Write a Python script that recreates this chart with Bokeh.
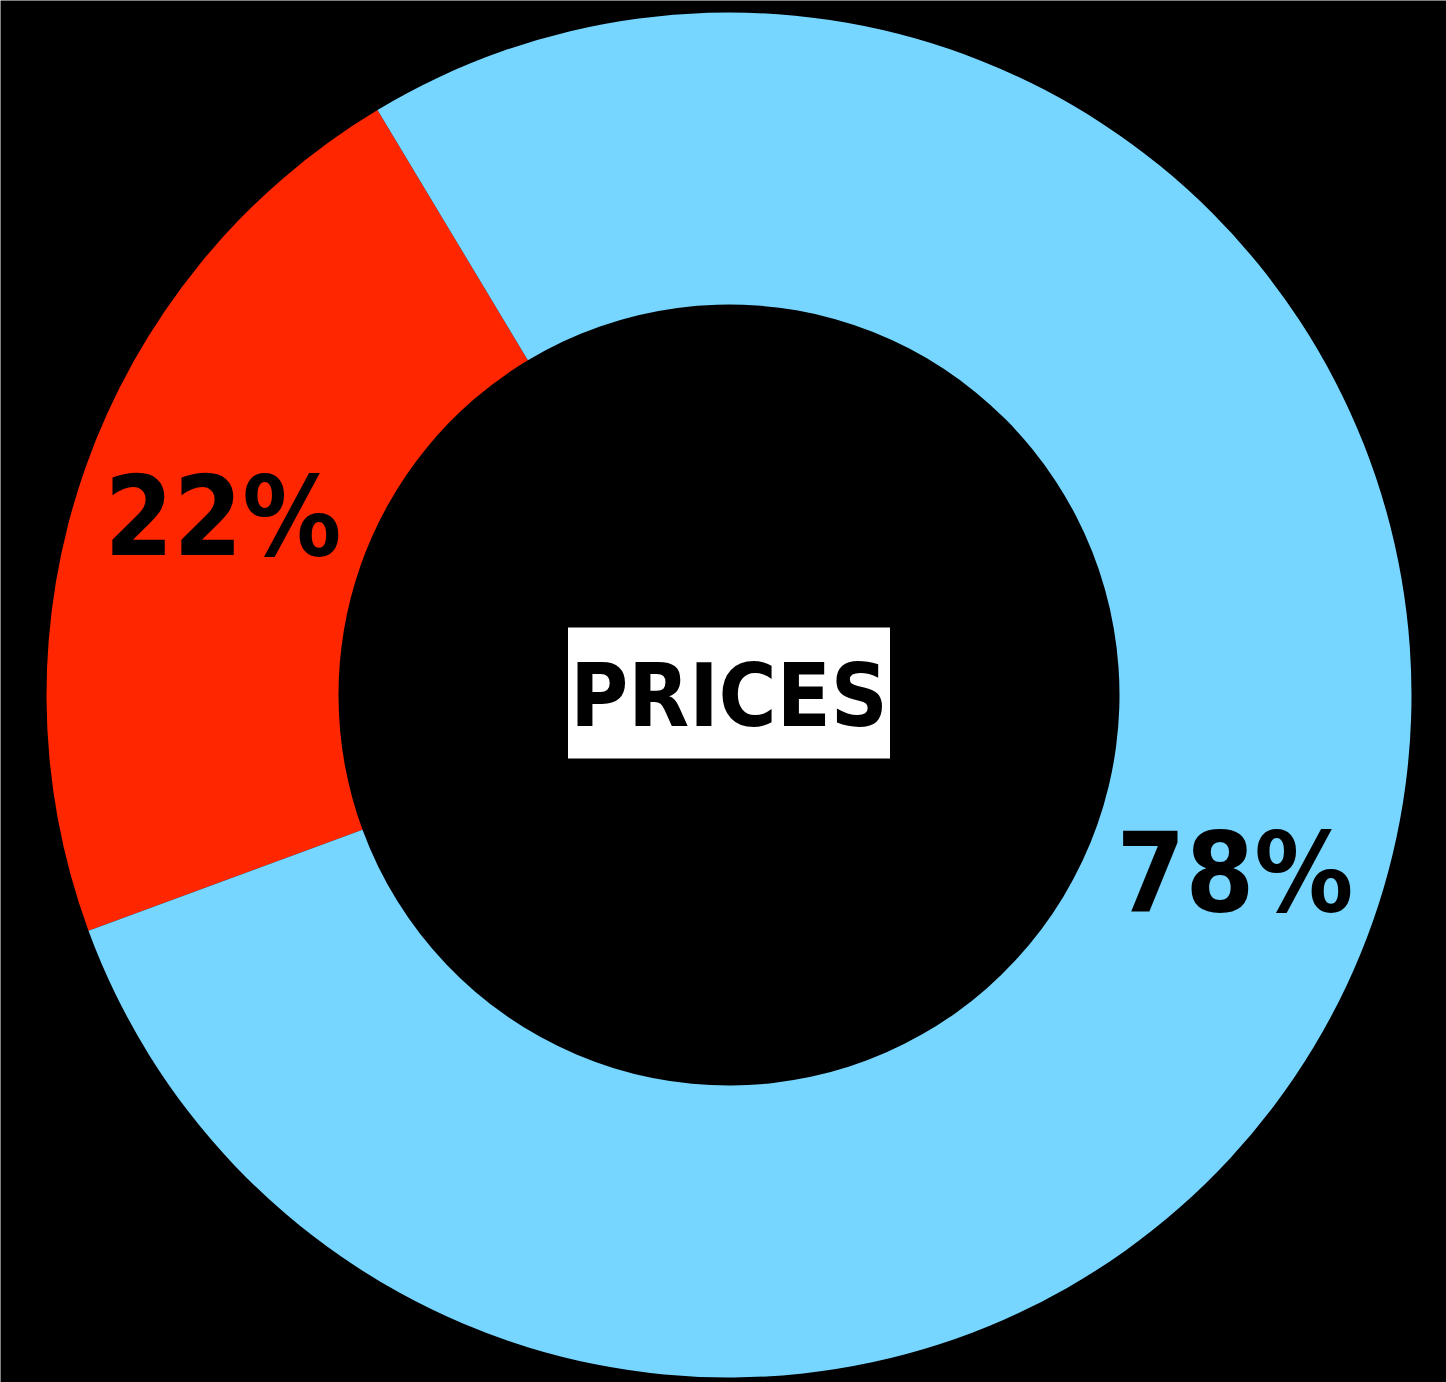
import math
from bokeh.plotting import figure
from bokeh.models import Range1d, ColumnDataSource
from bokeh.core.properties import value
from bokeh.embed import file_html
from bokeh.resources import INLINE

# ---- data ----
segments = ["Other", "Prices"]
shares = [22, 78]
labels = ["22%", "78%"]
seg_colors = ["#FF2600", "#76D6FF"]
center_label = "PRICES"
start_deg = 121.0

# ---- geometry (pixels) ----
W, H = 1446, 1382
cx, cy = 728.5, 694.5          # donut centre in page pixels
R_OUT, R_IN = 682.5, 390.5
FONT = "DejaVu Sans Condensed"

total = float(sum(shares))
starts, ends, lx, ly = [], [], [], []
a = math.radians(start_deg)
for s in shares:
    span = 2 * math.pi * s / total
    starts.append(a)
    ends.append(a + span)
    mid = a + span / 2
    rm = (R_OUT + R_IN) / 2
    lx.append(rm * math.cos(mid))
    ly.append(rm * math.sin(mid))
    a += span

src = ColumnDataSource(dict(start=starts, end=ends, color=seg_colors,
                            lx=lx, ly=ly, label=labels))

p = figure(width=W, height=H, output_backend="svg", toolbar_location=None,
           x_range=Range1d(0 - cx, W - cx),
           y_range=Range1d(cy - H, cy),
           min_border=0, border_fill_color="black", background_fill_color="black")
p.axis.visible = False
p.grid.visible = False
p.outline_line_color = None

p.annular_wedge(x=0, y=0, inner_radius=R_IN, outer_radius=R_OUT,
                start_angle="start", end_angle="end", fill_color="color",
                line_color=None, source=src)

p.text(x="lx", y="ly", text="label", source=src,
       text_font=value(FONT), text_font_style="bold",
       text_font_size="110px", text_color="black",
       text_align="center", text_baseline="middle")

p.rect(x=[0], y=[2], width=322, height=131, fill_color="white", line_color=None)
p.text(x=[0], y=[0], text=[center_label],
       text_font=value(FONT), text_font_style="bold",
       text_font_size="88px", text_color="black",
       text_align="center", text_baseline="middle")

html = file_html(p, INLINE)
html = html.replace("<body>", '<body style="background:#000000;">', 1)
open("out.html", "w").write(html)
